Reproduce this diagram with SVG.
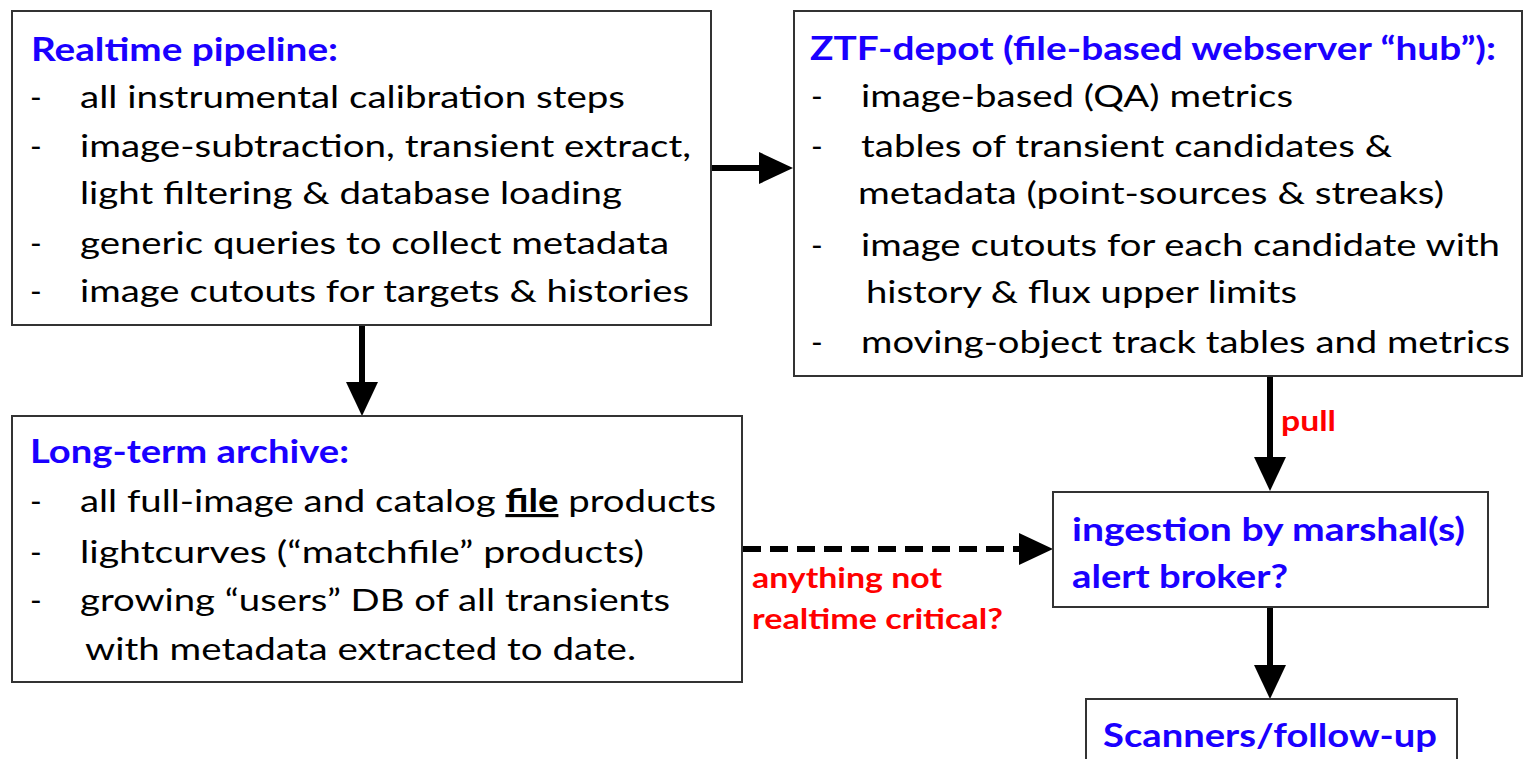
<svg xmlns="http://www.w3.org/2000/svg" width="1525" height="759" viewBox="0 0 1525 759">
<style>
.box{fill:#fff;stroke:#333;stroke-width:2}
.t{font-family:Lato,"Open Sans","Liberation Sans",sans-serif;font-size:31.5px;fill:#000}
.h{font-family:Lato,"Open Sans","Liberation Sans",sans-serif;font-size:33px;font-weight:bold;fill:#1a00ff}
.r{font-family:Lato,"Open Sans","Liberation Sans",sans-serif;font-size:28px;font-weight:bold;fill:#ff0000}
.ln{stroke:#000;stroke-width:6;fill:none}
.dash{stroke-dasharray:18 9}
</style>
<defs>
<marker id="ah" markerUnits="userSpaceOnUse" markerWidth="36" markerHeight="34" refX="0" refY="16" orient="auto">
<path d="M0,0 L34,16 L0,32 Z" fill="#000"/>
</marker>
</defs>
<rect width="1525" height="759" fill="#fff"/>

<g id="connectors">
<line class="ln" x1="711" y1="168" x2="759" y2="168" marker-end="url(#ah)"/>
<line class="ln" x1="362" y1="326" x2="362" y2="382" marker-end="url(#ah)"/>
<line class="ln" x1="1270" y1="377" x2="1270" y2="457" marker-end="url(#ah)"/>
<line class="ln dash" x1="743" y1="549" x2="1019" y2="549" marker-end="url(#ah)"/>
<line class="ln" x1="1270" y1="608" x2="1270" y2="665" marker-end="url(#ah)"/>
<text class="r" x="1281" y="431" textLength="55" lengthAdjust="spacingAndGlyphs">pull</text>
<text class="r" x="752" y="588" textLength="190" lengthAdjust="spacingAndGlyphs">anything not</text>
<text class="r" x="752" y="629" textLength="251" lengthAdjust="spacingAndGlyphs">realtime critical?</text>
</g>

<g id="realtime">
<rect class="box" x="12" y="11" width="699" height="314"/>
<text class="h" x="31" y="61" textLength="307" lengthAdjust="spacingAndGlyphs">Realtime pipeline:</text>
<text class="t" x="30" y="108">-</text>
<text class="t" x="80" y="108" textLength="545" lengthAdjust="spacingAndGlyphs">all instrumental calibration steps</text>
<text class="t" x="30" y="157">-</text>
<text class="t" x="80" y="157" textLength="611" lengthAdjust="spacingAndGlyphs">image-subtraction, transient extract,</text>
<text class="t" x="80" y="204" textLength="542" lengthAdjust="spacingAndGlyphs">light filtering &amp; database loading</text>
<text class="t" x="30" y="254">-</text>
<text class="t" x="80" y="254" textLength="589" lengthAdjust="spacingAndGlyphs">generic queries to collect metadata</text>
<text class="t" x="30" y="302">-</text>
<text class="t" x="80" y="302" textLength="609" lengthAdjust="spacingAndGlyphs">image cutouts for targets &amp; histories</text>
</g>

<g id="ztf-depot">
<rect class="box" x="794" y="11" width="728" height="365"/>
<text class="h" x="810" y="60" textLength="686" lengthAdjust="spacingAndGlyphs">ZTF-depot (file-based webserver “hub”):</text>
<text class="t" x="811" y="107">-</text>
<text class="t" x="861" y="107" textLength="432" lengthAdjust="spacingAndGlyphs">image-based (QA) metrics</text>
<text class="t" x="811" y="157">-</text>
<text class="t" x="861" y="157" textLength="531" lengthAdjust="spacingAndGlyphs">tables of transient candidates &amp;</text>
<text class="t" x="858" y="204" textLength="586" lengthAdjust="spacingAndGlyphs">metadata (point-sources &amp; streaks)</text>
<text class="t" x="811" y="256">-</text>
<text class="t" x="861" y="256" textLength="639" lengthAdjust="spacingAndGlyphs">image cutouts for each candidate with</text>
<text class="t" x="866" y="303" textLength="431" lengthAdjust="spacingAndGlyphs">history &amp; flux upper limits</text>
<text class="t" x="811" y="353">-</text>
<text class="t" x="861" y="353" textLength="649" lengthAdjust="spacingAndGlyphs">moving-object track tables and metrics</text>
</g>

<g id="archive">
<rect class="box" x="12" y="416" width="730" height="266"/>
<text class="h" x="30" y="463" textLength="319" lengthAdjust="spacingAndGlyphs">Long-term archive:</text>
<text class="t" x="30" y="512">-</text>
<text class="t" x="80" y="512" textLength="636" lengthAdjust="spacingAndGlyphs">all full-image and catalog <tspan font-weight="bold" text-decoration="underline">file</tspan> products</text>
<text class="t" x="30" y="563">-</text>
<text class="t" x="80" y="563" textLength="564" lengthAdjust="spacingAndGlyphs">lightcurves (“matchfile” products)</text>
<text class="t" x="30" y="611">-</text>
<text class="t" x="80" y="611" textLength="590" lengthAdjust="spacingAndGlyphs">growing “users” DB of all transients</text>
<text class="t" x="85" y="660" textLength="551" lengthAdjust="spacingAndGlyphs">with metadata extracted to date.</text>
</g>

<g id="ingestion">
<rect class="box" x="1053" y="492" width="435" height="115"/>
<text class="h" x="1072" y="541" textLength="393" lengthAdjust="spacingAndGlyphs">ingestion by marshal(s)</text>
<text class="h" x="1072" y="588" textLength="216" lengthAdjust="spacingAndGlyphs">alert broker?</text>
</g>

<g id="scanners">
<rect class="box" x="1086" y="699" width="371" height="80"/>
<text class="h" x="1103" y="747" textLength="334" lengthAdjust="spacingAndGlyphs">Scanners/follow-up</text>
</g>
</svg>
